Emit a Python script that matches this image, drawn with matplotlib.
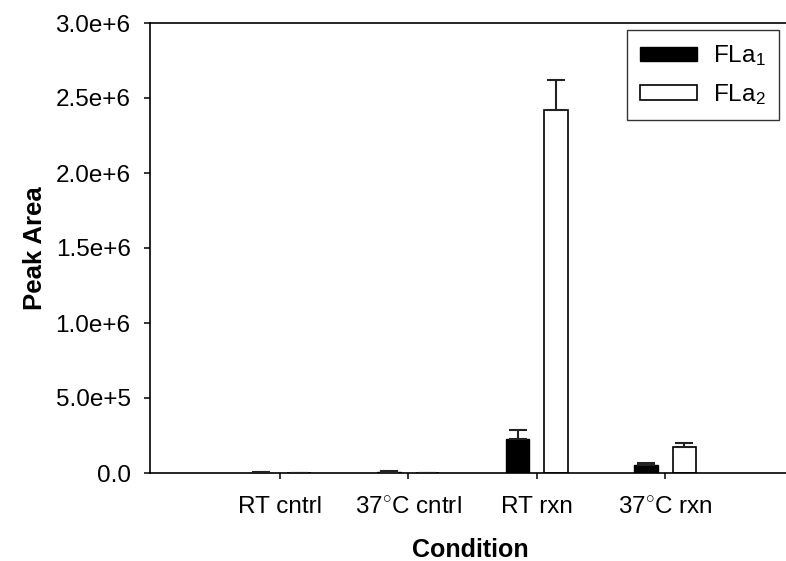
import numpy as np
import matplotlib
matplotlib.use("Agg")
import matplotlib.pyplot as plt

plt.rcParams["font.family"] = ["Liberation Sans", "DejaVu Sans"]
plt.rcParams["mathtext.fontset"] = "custom"
plt.rcParams["mathtext.rm"] = "Liberation Sans"
plt.rcParams["mathtext.it"] = "Liberation Sans"

# ---- data ----
categories = ["RT cntrl", "37$^{\\circ}$C cntrl", "RT rxn", "37$^{\\circ}$C rxn"]
fla1 = [3e3, 8e3, 2.3e5, 5.3e4]
fla1_err = [2e3, 4e3, 6.0e4, 1.4e4]
fla2 = [0, 0, 2.42e6, 1.76e5]
fla2_err = [0, 0, 2.0e5, 2.7e4]
yticks = [0, 5e5, 1e6, 1.5e6, 2e6, 2.5e6, 3e6]
ytick_labels = ["0.0", "5.0e+5", "1.0e+6", "1.5e+6", "2.0e+6", "2.5e+6", "3.0e+6"]

fig = plt.figure(figsize=(7.86, 5.61), dpi=100)
ax = fig.add_axes([150 / 786, 88 / 561, 636 / 786, 450 / 561])

x = np.arange(1, len(categories) + 1)
off = 0.149
w = 0.183

ax.bar(x - off, fla1, w, color="black", edgecolor="black", linewidth=1, label="FLa$_1$", zorder=2)
ax.bar(x + off, fla2, w, color="white", edgecolor="black", linewidth=1.2, label="FLa$_2$", zorder=2)

ekw = dict(fmt="none", ecolor="#222222", elinewidth=1.5, capsize=6.5, capthick=1.5, zorder=3)
ax.errorbar(x - off, fla1, yerr=[np.zeros(4), fla1_err], **ekw)
ax.errorbar(x + off, fla2, yerr=[np.zeros(4), fla2_err], **ekw)

ax.set_xlim(-0.01, 4.94)
ax.set_ylim(0, 3e6)
ax.set_xticks(x)
ax.set_xticklabels(categories, fontsize=17.5)
ax.set_yticks(yticks)
ax.set_yticklabels(ytick_labels, fontsize=17.5)
ax.tick_params(axis="x", direction="out", length=4.5, width=1.1, pad=12)
ax.tick_params(axis="y", direction="out", length=4, width=1.1, pad=10)

for s in ["left", "bottom", "top"]:
    ax.spines[s].set_linewidth(1.2)
ax.spines["right"].set_visible(False)

ax.set_xlabel("Condition", fontsize=18, fontweight="bold")
ax.set_ylabel("Peak Area", fontsize=18.5, fontweight="bold")
ax.xaxis.set_label_coords(0.503, -0.171)
ax.xaxis.label.set_va("center")
ax.yaxis.set_label_coords(-0.181, 0.5)
ax.yaxis.label.set_va("center")

leg = ax.legend(loc="upper right", bbox_to_anchor=(0.989, 0.984), fontsize=17.5,
                frameon=True, fancybox=False, handlelength=2.35, handleheight=0.55,
                borderpad=0.55, labelspacing=0.55, handletextpad=0.65, borderaxespad=0)
leg.get_frame().set_edgecolor("black")
leg.get_frame().set_linewidth(1.0)

fig.savefig("out.png", dpi=100)
